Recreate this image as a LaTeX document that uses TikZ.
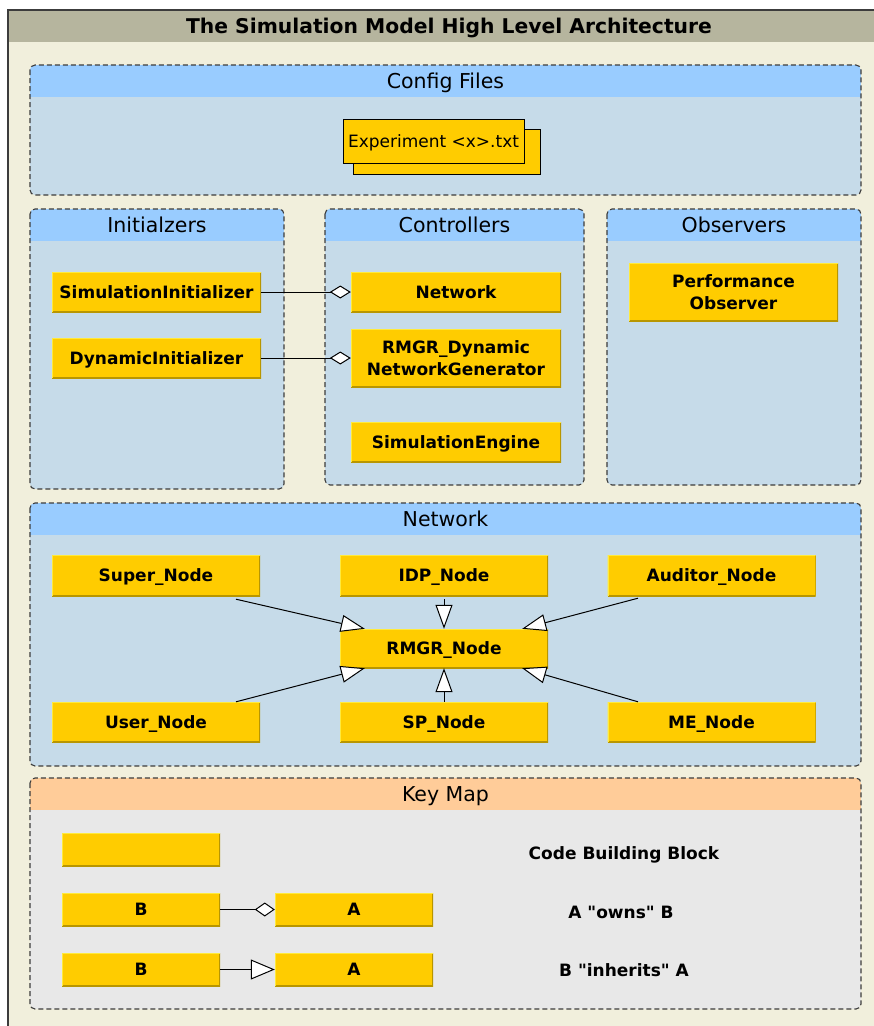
\documentclass[tikz,border=0pt]{standalone}
\usepackage{fontspec}
\setmainfont{DejaVu Sans}[Ligatures=TeXOff]
\usetikzlibrary{arrows.meta,calc}

\definecolor{pagecream}{HTML}{F1EFDC}
\definecolor{titlebar}{HTML}{B6B59E}
\definecolor{headblue}{HTML}{99CCFF}
\definecolor{bodyblue}{HTML}{C6DBE9}
\definecolor{headpeach}{HTML}{FFCC99}
\definecolor{bodygray}{HTML}{E8E8E8}
\definecolor{blockyellow}{HTML}{FFCC00}
\definecolor{blocklight}{HTML}{FFEA3C}
\definecolor{blockdark}{HTML}{B89600}
\definecolor{framegray}{HTML}{3C3C3C}

% a titled group: name, x1, y1, x2, y2, header colour, body colour, title
\newcommand\archpanel[8]{%
  \begin{scope}
    \clip[rounded corners=5pt] (#2,#3) rectangle (#4,#5);
    \fill[#7] (#2,#3) rectangle (#4,#5);
    \fill[#6] (#2,#3) rectangle (#4,#3+32);
  \end{scope}
  \draw[panelborder] (#2,#3) rectangle (#4,#5);
  \node[paneltitle] (#1) at ({(#2+#4)/2},#3+16) {#8};
}

\tikzset{
  x=1pt, y=-1pt,
  panelborder/.style={draw=framegray, line width=1.1pt, dash pattern=on 5pt off 3pt, rounded corners=5pt},
  paneltitle/.style={font=\fontsize{20.5}{24}\selectfont, text=black, inner sep=0pt,
    text height=15pt, text depth=0pt},
  blockbase/.style={fill=blockyellow, inner sep=0pt, align=center,
    minimum width=209pt, minimum height=40pt,
    font=\fontsize{17}{21.5}\selectfont\bfseries,
    path picture={
      \draw[blockdark, line width=2pt] (path picture bounding box.south west) -- (path picture bounding box.south east) -- (path picture bounding box.north east);
      \draw[blocklight, line width=2pt] (path picture bounding box.south west) -- (path picture bounding box.north west) -- (path picture bounding box.north east);
    }},
  block/.style={blockbase, text height=12.4pt, text depth=0pt},
  twoline/.style={blockbase, minimum height=58pt},
  keyblock/.style={block, minimum width=158pt, minimum height=33pt},
  filebox/.style={fill=blockyellow, draw=black, line width=1pt},
  keylabel/.style={font=\fontsize{17}{20}\selectfont\bfseries, inner sep=0pt,
    text height=12.4pt, text depth=0pt},
  owns/.style={draw=black, line width=1pt, -{Diamond[fill=white, length=21pt, width=13pt, line width=1pt]}},
  inherits/.style={draw=black, line width=1pt, -{Triangle[fill=white, length=24pt, width=17pt, line width=1pt]}},
  keyowns/.style={owns, -{Diamond[fill=white, length=20pt, width=14pt, line width=1pt]}},
  keyinherits/.style={inherits, -{Triangle[fill=white, length=24pt, width=20pt, line width=1pt]}},
}

\begin{document}
\begin{tikzpicture}
\useasboundingbox (0,0) rectangle (874,1026);
\clip (0,0) rectangle (874,1026);
\fill[white] (0,0) rectangle (874,1026);

% outer frame and title bar
\fill[pagecream] (8,10) rectangle (900,1050);
\fill[titlebar] (8,10) rectangle (900,42);
\draw[framegray, line width=1.2pt] (8,1050) -- (8,10) -- (900,10);
\node[font=\fontsize{20.3}{24}\selectfont\bfseries, inner sep=0pt,
      text height=14.8pt, text depth=0pt] (title) at (449,26) {The Simulation Model High Level Architecture};

% groups
\archpanel{cfg}{30}{65}{861}{195}{headblue}{bodyblue}{Config Files}
\archpanel{ini}{30}{209}{284}{489}{headblue}{bodyblue}{Initialzers}
\archpanel{ctl}{325}{209}{584}{485}{headblue}{bodyblue}{Controllers}
\archpanel{obs}{607}{209}{861}{485}{headblue}{bodyblue}{Observers}
\archpanel{netp}{30}{503}{861}{766}{headblue}{bodyblue}{Network}
\archpanel{key}{30}{778}{861}{1009}{headpeach}{bodygray}{Key Map}

% config file stack
\draw[filebox] (353,129) rectangle (540,174);
\node[filebox, minimum width=181pt, minimum height=44pt, inner sep=0pt,
      text height=12.4pt, text depth=0pt,
      font=\fontsize{17}{20}\selectfont] (expfile) at (433.5,141) {Experiment <x>.txt};

% initializers and controllers
\node[block] (sinit) at (156.5,292) {SimulationInitializer};
\node[block] (dinit) at (156.5,358) {DynamicInitializer};
\node[block, minimum width=210pt] (net) at (456,292) {Network};
\node[twoline, minimum width=210pt] (gen) at (456,358) {RMGR\_Dynamic\\NetworkGenerator};
\node[block, minimum width=210pt] (engine) at (456,442) {SimulationEngine};
\node[twoline] (perf) at (733.5,292) {Performance\\Observer};

\draw[owns] (sinit.east) -- (net.west);
\draw[owns] (dinit.east) -- (gen.west);

% network node hierarchy
\node[block, minimum width=208pt, minimum height=41pt] (super) at (156,575.5) {Super\_Node};
\node[block, minimum width=208pt, minimum height=41pt] (idp) at (444,575.5) {IDP\_Node};
\node[block, minimum width=208pt, minimum height=41pt] (auditor) at (711.5,575.5) {Auditor\_Node};
\node[block, minimum width=208pt, minimum height=39pt] (rmgr) at (444,648.5) {RMGR\_Node};
\node[block, minimum width=208pt] (user) at (156,722) {User\_Node};
\node[block, minimum width=208pt] (sp) at (444,722) {SP\_Node};
\node[block, minimum width=208pt] (me) at (711.5,722) {ME\_Node};

\draw[inherits] ([xshift=80pt,yshift=-3pt]super.south) -- ([xshift=25pt]rmgr.north west);
\draw[inherits] ([yshift=-3pt]idp.south) -- (rmgr.north);
\draw[inherits] ([xshift=-73.5pt,yshift=-2pt]auditor.south) -- ([xshift=-26pt]rmgr.north east);
\draw[inherits] ([xshift=80pt]user.north) -- ([xshift=25pt]rmgr.south west);
\draw[inherits] (sp.north) -- (rmgr.south);
\draw[inherits] ([xshift=-73.5pt]me.north) -- ([xshift=-26pt]rmgr.south east);

% key map
\node[keyblock] (kcode) at (141,849.5) {};
\node[keyblock] (kb1) at (141,909.5) {B};
\node[keyblock] (ka1) at (354,909.5) {A};
\node[keyblock] (kb2) at (141,969.5) {B};
\node[keyblock] (ka2) at (354,969.5) {A};
\draw[keyowns] (kb1.east) -- (ka1.west);
\draw[keyinherits] (kb2.east) -- (ka2.west);
\node[keylabel] (lcode) at (624,853) {Code Building Block};
\node[keylabel] (lowns) at (621,912) {A "owns" B};
\node[keylabel] (linh) at (624,970) {B "inherits" A};
\end{tikzpicture}
\end{document}
